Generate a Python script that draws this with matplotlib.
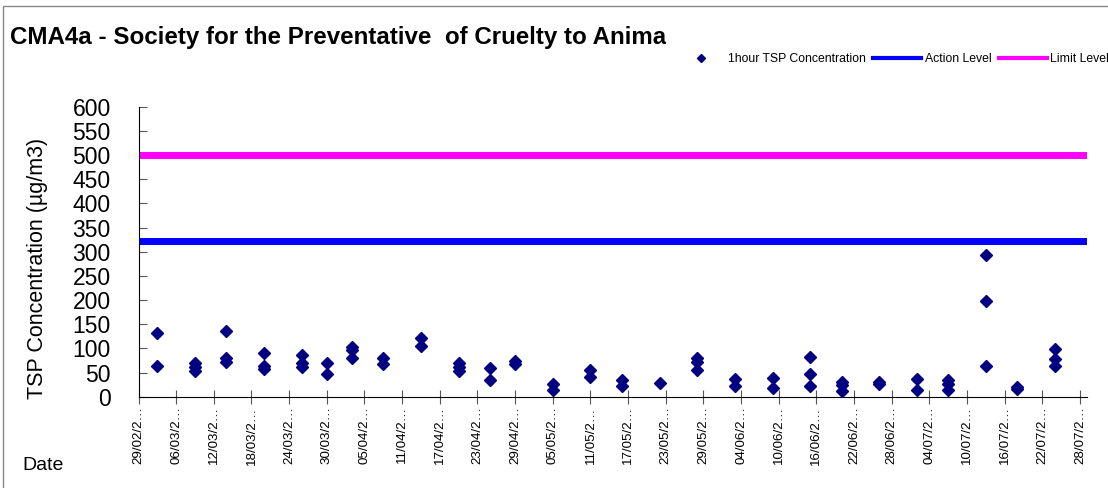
import pandas as pd
import numpy as np
import matplotlib.pyplot as plt
from matplotlib.lines import Line2D
from matplotlib.patches import Rectangle
from matplotlib.transforms import Bbox, TransformedBbox

plt.rcParams['font.family'] = ['Liberation Sans', 'DejaVu Sans']

# sampling days and the 1-hour TSP readings taken on each of them (ug/m3)
sample_dates = ["2008-03-03", "2008-03-09", "2008-03-14", "2008-03-20", "2008-03-26",
                "2008-03-30", "2008-04-03", "2008-04-08", "2008-04-14", "2008-04-20",
                "2008-04-25", "2008-04-29", "2008-05-05", "2008-05-11", "2008-05-16",
                "2008-05-22", "2008-05-28", "2008-06-03", "2008-06-09", "2008-06-15",
                "2008-06-20", "2008-06-26", "2008-07-02", "2008-07-07", "2008-07-13",
                "2008-07-18", "2008-07-24"]
tsp_values = [[132, 64], [70, 62, 54], [136, 81, 71], [90, 64, 57], [87, 70, 62],
              [70, 47], [103, 97, 80], [80, 68], [122, 104], [70, 61, 53],
              [59, 35], [73, 68], [27, 14], [55, 40], [34, 22],
              [28], [80, 72, 56], [36, 22], [39, 17], [83, 48, 23],
              [31, 24, 12], [31, 27], [36, 14], [35, 26, 14], [294, 199, 64],
              [21, 15], [98, 78, 64]]
action_level = 323
limit_level = 500
x_start = "2008-02-29"
x_end = "2008-07-28"

dates = []
values = []
for d, vals in zip(sample_dates, tsp_values):
    for v in vals:
        dates.append(pd.Timestamp(d))
        values.append(v)

fig = plt.figure(figsize=(11.08, 4.88), dpi=100)
W, H = 1108, 488
ax = fig.add_axes([138.5 / W, 1 - 396.7 / H, (1087 - 138.5) / W, (396.7 - 106.7) / H])

ax.plot(dates, values, linestyle='none', marker='D', markersize=6.5,
        color='#000080', zorder=3)
ax.axhline(action_level, color='#0000FF', linewidth=5, zorder=2)
ax.axhline(limit_level, color='#FF00FF', linewidth=5, zorder=2)

ticks = pd.date_range(x_start, x_end, freq="6D")
ax.set_xticks(ticks)
ax.set_xticklabels([t.strftime("%d/%m/2") + "\u2026" for t in ticks],
                   rotation=90, fontsize=9.6)
ax.set_xlim(pd.Timestamp(x_start), pd.Timestamp(x_end) + pd.Timedelta(days=1.1))
ax.set_ylim(0, 600)
ax.set_yticks(np.arange(0, 601, 50))
ax.tick_params(axis='y', direction='in', length=6, color='#555555', labelsize=16.5, pad=20)
ax.tick_params(axis='x', direction='inout', length=10, color='#555555', pad=2)
ax.spines['top'].set_visible(False)
ax.spines['right'].set_visible(False)

# title box in the original is too narrow, so the last letter gets cut off
title = fig.text(10 / W, 1 - 44.3 / H,
                 "CMA4a - Society for the Preventative  of Cruelty to Animal",
                 fontsize=17.4, fontweight='bold', va='baseline', ha='left')
title.set_clip_on(True)
title.set_clip_box(TransformedBbox(Bbox([[0, 0], [666 / W, 1]]), fig.transFigure))

fig.text(38 / W, 1 - 268 / H, "TSP Concentration (\u00b5g/m3)", rotation=90,
         fontsize=15.5, ha='center', va='center')
fig.text(22 / W, 1 - 465 / H, "Date", fontsize=14, ha='left', va='center')

handles = [Line2D([], [], linestyle='none', marker='D', markersize=4, color='#000080'),
           Line2D([], [], color='#0000FF', linewidth=3),
           Line2D([], [], color='#FF00FF', linewidth=3)]
fig.legend(handles, ["1hour TSP Concentration", "Action Level", "Limit Level"],
           loc='center left', bbox_to_anchor=(672 / W, 1 - 59 / H), ncol=3,
           frameon=False, fontsize=8.8, handlelength=3.9, handletextpad=0.3,
           columnspacing=0.6, borderaxespad=0)

fig.patches.append(Rectangle((2.5 / W, -0.1), 1.2, 1.1 - 6.5 / H,
                             transform=fig.transFigure, fill=False,
                             edgecolor='#888888', linewidth=1))

fig.savefig("out.png", dpi=100)
